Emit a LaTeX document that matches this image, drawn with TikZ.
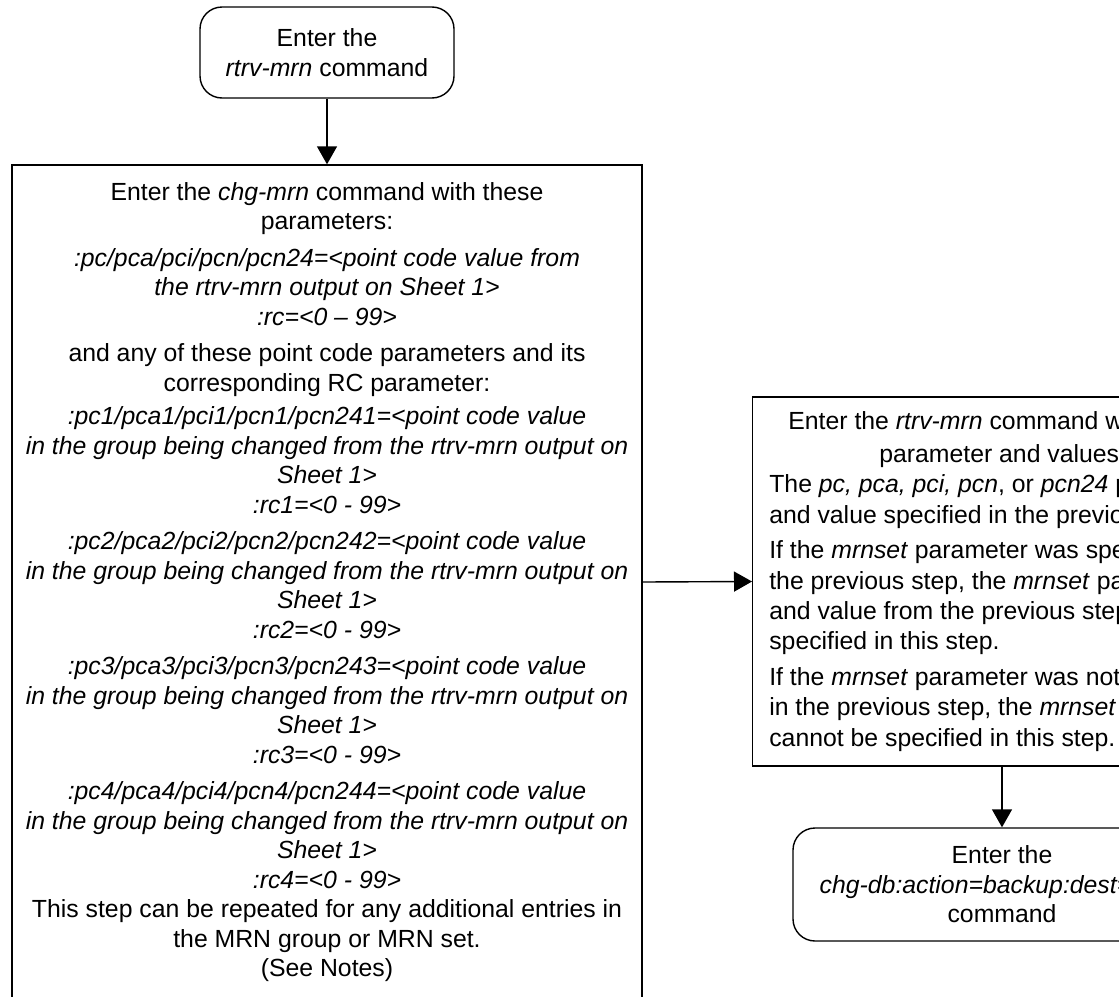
\documentclass[tikz,border=0pt]{standalone}
\usepackage{fontspec}
\setmainfont{Liberation Sans}
\usetikzlibrary{arrows.meta}

\begin{document}
\begin{tikzpicture}[
  x=0.5pt, y=-0.5pt,
  font=\fontsize{12.4pt}{14.75pt}\selectfont,
  passo/.style={draw=black, line width=0.7pt, fill=white, align=center,
                inner sep=0pt},
  comando/.style={passo, rounded corners=11pt},
  freccia/.style={draw=black, line width=0.7pt,
                  -{Triangle[length=9pt,width=10pt]}}
]

% ---- area della pagina (il lato destro e il fondo sono tagliati) ----
\useasboundingbox (0,0) rectangle (1119,996);

% ---- blocchi -------------------------------------------------------
\node[comando, minimum width=127pt, minimum height=45.5pt] (rtrvinizio) at (327,52.5)
  {Enter the\\\textit{rtrv-mrn} command};

\node[passo, minimum width=315pt, minimum height=417pt] (chgmrn) at (327,582)
  {Enter the \textit{chg-mrn} command with these\\
   parameters:\\[3.5pt]
   \textit{:pc/pca/pci/pcn/pcn24=<point code value from}\\
   \textit{the rtrv-mrn output on Sheet 1>}\\
   \textit{:rc=<0 – 99>}\\[3.5pt]
   and any of these point code parameters and its\\
   corresponding RC parameter:\\[2pt]
   \textit{:pc1/pca1/pci1/pcn1/pcn241=<point code value}\\
   \textit{in the group being changed from the rtrv-mrn output on}\\
   \textit{Sheet 1>}\\
   \textit{:rc1=<0 - 99>}\\[3.5pt]
   \textit{:pc2/pca2/pci2/pcn2/pcn242=<point code value}\\
   \textit{in the group being changed from the rtrv-mrn output on}\\
   \textit{Sheet 1>}\\
   \textit{:rc2=<0 - 99>}\\[3.5pt]
   \textit{:pc3/pca3/pci3/pcn3/pcn243=<point code value}\\
   \textit{in the group being changed from the rtrv-mrn output on}\\
   \textit{Sheet 1>}\\
   \textit{:rc3=<0 - 99>}\\[3.5pt]
   \textit{:pc4/pca4/pci4/pcn4/pcn244=<point code value}\\
   \textit{in the group being changed from the rtrv-mrn output on}\\
   \textit{Sheet 1>}\\
   \textit{:rc4=<0 - 99>}\\
   This step can be repeated for any additional entries in\\
   the MRN group or MRN set.\\
   (See Notes)};

\node[passo, minimum width=250pt, minimum height=184.5pt, anchor=west,
      font=\fontsize{12.4pt}{15.2pt}\selectfont] (rtrvmrn) at (752,581.5)
  {\begin{tabular}{@{}l@{}}
   \multicolumn{1}{@{}c@{}}{Enter the \textit{rtrv-mrn} command with these}\\[1.5pt]
   \multicolumn{1}{@{}c@{}}{parameter and values:}\\
   The \textit{pc, pca, pci, pcn}, or \textit{pcn24} parameter\\
   and value specified in the previous step.\\[2.5pt]
   If the \textit{mrnset} parameter was specified in\\
   the previous step, the \textit{mrnset} parameter\\
   and value from the previous step must be\\
   specified in this step.\\[2.5pt]
   If the \textit{mrnset} parameter was not specified\\
   in the previous step, the \textit{mrnset} parameter\\
   cannot be specified in this step.
   \end{tabular}};

\node[comando, minimum width=209pt, minimum height=56.5pt] (backup) at (1002,884.5)
  {Enter the\\\textit{chg-db:action=backup:dest=fixed}\\command};

% ---- collegamenti --------------------------------------------------
\draw[freccia] (rtrvinizio) -- (chgmrn);
\draw[freccia] (chgmrn.east) -- (rtrvmrn.west);
\draw[freccia] (backup.north |- rtrvmrn.south) -- (backup);

\end{tikzpicture}
\end{document}
